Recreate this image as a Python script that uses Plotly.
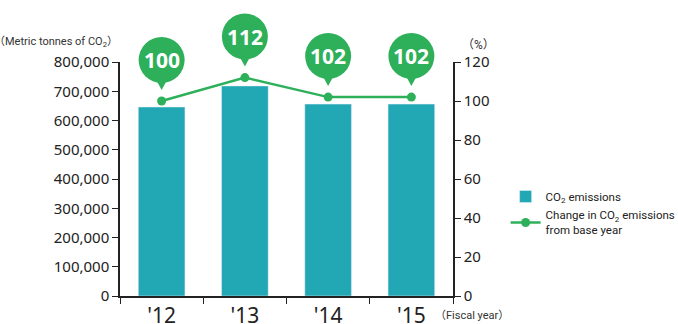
import plotly.graph_objects as go

years = ["'12", "'13", "'14", "'15"]
emissions = [646000, 718000, 656000, 656000]
change_pct = [100, 112, 102, 102]

BAR_COLOR = "#22a7b4"
LINE_COLOR = "#2eb05a"
AXIS_COLOR = "#222222"
FONT = "Noto Sans, Noto Sans CJK JP, sans-serif"
LEGEND_FONT = "Roboto, Noto Sans CJK JP, sans-serif"

PCT_MAX = 120
TOP, AXIS_TOP, AXIS_BOTTOM = 8, 62, 296
plot_h = AXIS_BOTTOM - TOP
axis_frac = (AXIS_BOTTOM - AXIS_TOP) / plot_h

fig = go.Figure()
fig.add_trace(go.Bar(
    x=years, y=emissions, name="CO<sub>2</sub> emissions",
    marker_color=BAR_COLOR, width=0.56,
))
fig.add_trace(go.Scatter(
    x=years, y=change_pct, yaxis="y2", mode="lines+markers",
    name="Change in CO<sub>2</sub> emissions<br>from base year",
    line=dict(color=LINE_COLOR, width=2.5),
    marker=dict(color=LINE_COLOR, size=9),
))
# invisible trace so the tall helper subplot (x, y3) exists for the bubbles
fig.add_trace(go.Scatter(x=years, y=change_pct, yaxis="y3", mode="none",
                         showlegend=False, hoverinfo="skip"))

# speech bubbles above each point (y3 has the same scale as y2 but spans the whole height)
for i, v in enumerate(change_pct):
    fig.add_shape(type="circle", xref="x", yref="y3", xsizemode="pixel", ysizemode="pixel",
                  xanchor=i, yanchor=v, x0=-23, x1=23, y0=18, y1=64,
                  fillcolor=LINE_COLOR, line_width=0)
    fig.add_shape(type="path", xref="x", yref="y3", xsizemode="pixel", ysizemode="pixel",
                  xanchor=i, yanchor=v, path="M -7 24 L 7 24 L 0 11 Z",
                  fillcolor=LINE_COLOR, line_width=0)
    fig.add_annotation(x=i, y=v, xref="x", yref="y2", yshift=41, text=f"<b>{v}</b>",
                       showarrow=False, font=dict(color="white", size=21, family=FONT))

fig.add_annotation(x=0, y=1.085, xref="x domain", yref="y domain", xanchor="right", yanchor="middle",
                   text="（Metric tonnes of CO<sub>2</sub>）", showarrow=False,
                   font=dict(size=11, color="#333", family=LEGEND_FONT))
fig.add_annotation(x=1.021, y=1.073, xref="x domain", yref="y domain", xanchor="left", yanchor="middle",
                   text="（%）", showarrow=False, font=dict(size=12, color="#333", family=LEGEND_FONT))
fig.add_annotation(x=1.057, y=-0.085, xref="x domain", yref="y domain", xanchor="center",
                   yanchor="middle", text="（Fiscal year）", showarrow=False,
                   font=dict(size=11, color="#333", family=LEGEND_FONT))

axis_common = dict(showline=True, linecolor=AXIS_COLOR, linewidth=1.5, ticks="outside", ticklen=6,
                   tickcolor=AXIS_COLOR, showgrid=False, zeroline=False)

fig.update_layout(
    width=678, height=324,
    margin=dict(l=120, r=225, t=TOP, b=324 - AXIS_BOTTOM, autoexpand=False),
    plot_bgcolor="rgba(0,0,0,0)", paper_bgcolor="white",
    font=dict(family=FONT, color="#222"),
    showlegend=True,
    legend=dict(x=1.158, y=(AXIS_BOTTOM - 182) / plot_h, xanchor="left", yanchor="top",
                font=dict(size=11.5, color="#222", family=LEGEND_FONT),
                itemwidth=30, bgcolor="rgba(0,0,0,0)"),
    xaxis=dict(**axis_common, tickson="boundaries", tickfont=dict(size=21, color="#222"),
               ticklabelstandoff=0),
    yaxis=dict(**axis_common, range=[0, 800000], dtick=100000, tickformat=",",
               domain=[0, axis_frac], tickfont=dict(size=15, color="#222")),
    yaxis2=dict(**axis_common, range=[0, PCT_MAX], dtick=20, overlaying="y", side="right",
                tickfont=dict(size=15, color="#222")),
    yaxis3=dict(range=[0, PCT_MAX / axis_frac], domain=[0, 1], anchor="x", visible=False),
)

fig.write_html("out.html", config={"displayModeBar": False},
               post_script="document.body.style.margin = '0px';")
